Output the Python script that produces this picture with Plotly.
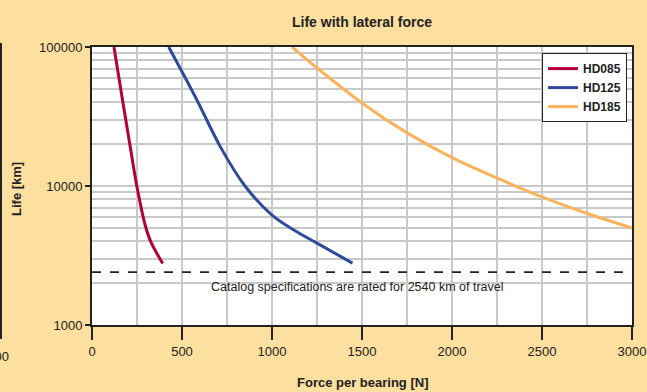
import plotly.graph_objects as go

# ---- data ----
hd085_force = [122, 167, 214, 249, 296, 327, 393]
hd085_life = [100000, 43500, 18650, 10000, 5200, 3960, 2770]

hd125_force = [426, 575, 718, 850, 1000, 1138, 1250, 1447]
hd125_life = [100000, 43500, 18650, 10000, 6170, 4680, 3880, 2785]

hd185_force = [1112, 1254, 1505, 1753, 2000, 2246, 2500, 2751, 3000]
hd185_life = [100000, 70000, 39100, 24000, 16000, 11480, 8340, 6340, 4990]

catalog_life = 2400
catalog_text = "Catalog specifications are rated for 2540 km of travel"

x_ticks = [0, 500, 1000, 1500, 2000, 2500, 3000]
y_ticks = [1000, 10000, 100000]
y_minor = [m * d for d in (1000, 10000) for m in range(2, 10)]

BG = "#FDDF9F"
DARK = "#222222"
GRID = "#C9C9C9"
FONT = "Liberation Sans, Arial, Helvetica, sans-serif"

fig = go.Figure()
series = [
    ("HD085", hd085_force, hd085_life, "#B4003A"),
    ("HD125", hd125_force, hd125_life, "#2E4A9B"),
    ("HD185", hd185_force, hd185_life, "#F9B45B"),
]
for name, xs, ys, col in series:
    fig.add_trace(go.Scatter(x=xs, y=ys, name=name, mode="lines",
                             line=dict(color=col, width=3, shape="spline", smoothing=1.0)))

# catalog reference line
fig.add_trace(go.Scatter(x=[x_ticks[0], x_ticks[-1]], y=[catalog_life, catalog_life],
                         mode="lines", showlegend=False, hoverinfo="skip",
                         line=dict(color=DARK, width=1.8, dash="9px,9px")))

fig.update_layout(
    width=647, height=392,
    margin=dict(l=92, r=15, t=47, b=67, autoexpand=False),
    paper_bgcolor=BG, plot_bgcolor="white",
    font=dict(family=FONT, size=13, color=DARK),
    title=dict(text="Life with lateral force", x=0.5, xref="paper", xanchor="center",
               y=(392 - 22) / 392, yref="container", yanchor="middle", automargin=False,
               font=dict(family=FONT, size=14, color=DARK, weight="bold")),
    showlegend=True,
    legend=dict(x=0.9907, xanchor="right", y=0.978, yanchor="top",
                bgcolor="white", bordercolor=DARK, borderwidth=1,
                font=dict(family=FONT, size=12, color=DARK, weight="bold"),
                itemwidth=30, tracegroupgap=0),
)

fig.update_xaxes(range=[0, 3000], tickvals=x_ticks, ticks="outside", ticklen=13,
                 tickwidth=1.5, tickcolor=DARK, showline=True, linecolor=DARK, linewidth=2,
                 mirror=True, showgrid=True, gridcolor=GRID, gridwidth=1.5, automargin=False,
                 minor=dict(dtick=250, showgrid=True, gridcolor=GRID, gridwidth=1.5, ticks=""),
                 zeroline=False, tickfont=dict(size=13, color=DARK))
fig.update_yaxes(type="log", range=[3, 5], tickvals=y_ticks, ticktext=[str(v) for v in y_ticks],
                 ticks="outside", ticklen=5, tickwidth=1.5, tickcolor=DARK,
                 showline=True, linecolor=DARK, linewidth=2, mirror=True, automargin=False,
                 showgrid=True, gridcolor=GRID, gridwidth=1.5,
                 minor=dict(tickvals=y_minor, showgrid=True, gridcolor=GRID, gridwidth=1.5, ticks=""),
                 zeroline=False, tickfont=dict(size=13, color=DARK))

# axis titles
fig.add_annotation(text="Force per bearing [N]", xref="paper", yref="paper",
                   x=0.5, y=(325 - 382) / 278, xanchor="center", yanchor="middle",
                   showarrow=False, font=dict(family=FONT, size=13, color=DARK, weight="bold"))
fig.add_annotation(text="Life [km]", xref="paper", yref="paper", textangle=-90,
                   x=(17 - 92) / 540, y=(325 - 189) / 278, xanchor="center", yanchor="middle",
                   showarrow=False, font=dict(family=FONT, size=13, color=DARK, weight="bold"))
# catalog note
fig.add_annotation(text=catalog_text, xref="paper", yref="paper",
                   x=(357 - 92) / 540, y=(325 - 287) / 278, xanchor="center", yanchor="middle",
                   showarrow=False, font=dict(family=FONT, size=12.5, color=DARK))

# cropped neighbouring chart edge at the far left
fig.add_shape(type="line", xref="paper", yref="paper",
              x0=(1 - 92) / 540, x1=(1 - 92) / 540, y0=(325 - 339) / 278, y1=(325 - 43) / 278,
              line=dict(color=DARK, width=2))
fig.add_annotation(text="3000", xref="paper", yref="paper",
                   x=(11 - 92) / 540, y=(325 - 356) / 278, xanchor="right", yanchor="middle",
                   showarrow=False, font=dict(family=FONT, size=13, color=DARK))

fig.write_html("out.html", config={"displayModeBar": False},
               post_script="document.body.style.margin='0';document.body.style.padding='0';"
                           "document.body.style.overflow='hidden';"
                           "document.documentElement.style.background='" + BG + "';")
